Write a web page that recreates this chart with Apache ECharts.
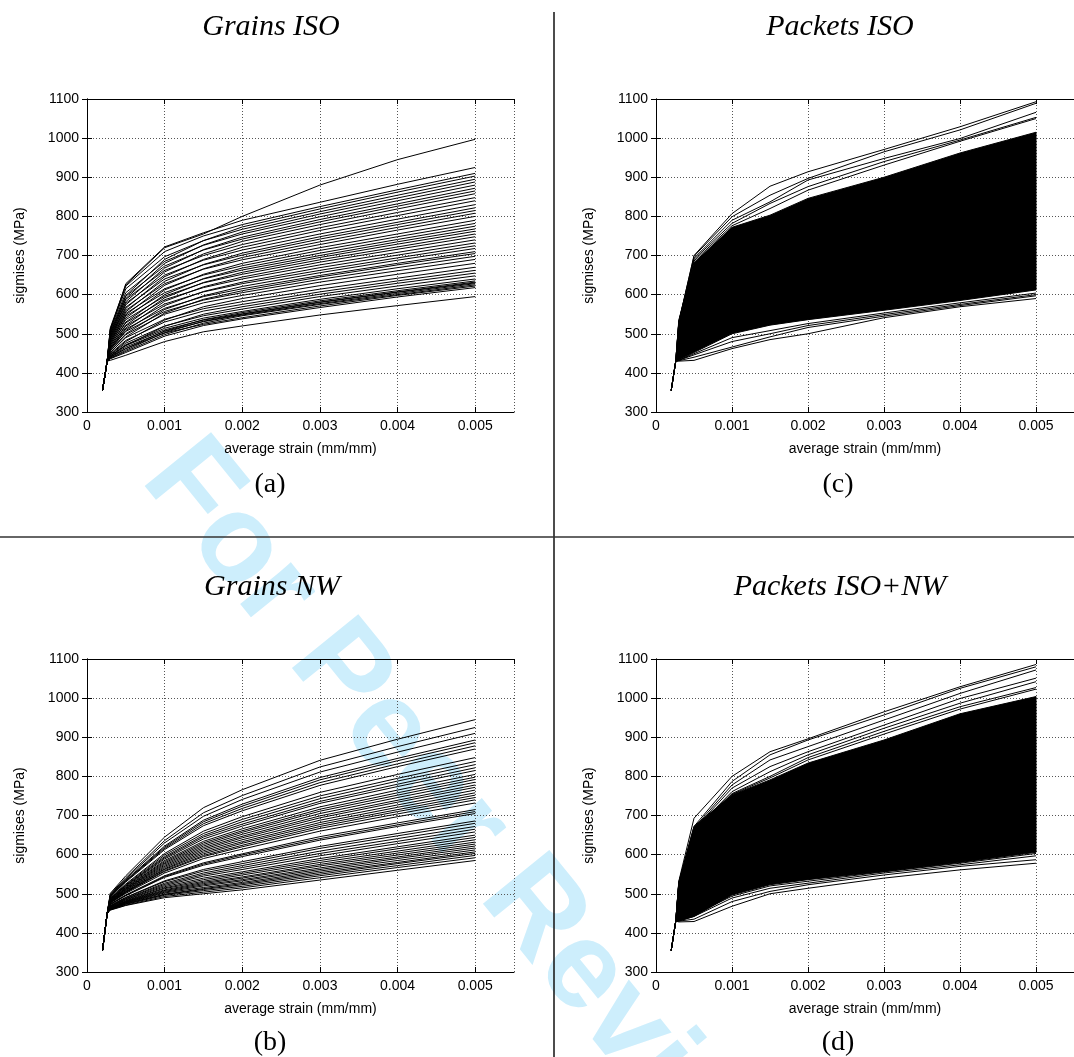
<!DOCTYPE html>
<html>
<head>
<meta charset="UTF-8">
<title>stress strain</title>
<style>
  body{margin:0;padding:0;background:#fff;}
  #main{width:1074px;height:1057px;}
</style>
</head>
<body>
<div id="main"></div>
<script src="https://cdn.jsdelivr.net/npm/echarts@6.0.0/dist/echarts.min.js"></script>
<script>
// strain points shared by every curve
var strain = [0.0002, 0.00026, 0.0003, 0.0005, 0.001, 0.0015, 0.002, 0.003, 0.004, 0.005];
// elastic start, same for all curves of a panel
var grainsIsoStart = [355, 430];
var grainsNwStart = [355, 450];
var packetsStart = [355, 430];

// (a) Grains ISO : values at 0.0003 .. 0.005
var grainsIso = [
  [432,445,480,505,520,548,572,595],
  [436,452,494,521,538,567,594,618],
  [440,462,502,524,541,571,598,622],
  [437,455,498,527,546,575,600,625],
  [441,466,506,531,548,577,603,628],
  [438,458,503,532,550,580,606,630],
  [443,470,510,535,551,581,607,632],
  [440,462,507,536,554,584,610,635],
  [444,472,514,540,557,588,615,640],
  [446,476,520,546,563,595,622,648],
  [443,470,519,550,569,601,629,655],
  [449,483,530,558,575,607,635,662],
  [452,490,537,564,582,614,642,670],
  [447,480,535,569,590,623,652,680],
  [456,498,550,579,598,632,661,690],
  [460,506,557,586,605,639,669,698],
  [452,492,553,588,610,645,676,705],
  [462,512,565,595,615,649,680,710],
  [457,500,562,597,621,656,688,718],
  [466,520,576,607,628,662,694,725],
  [460,508,572,608,632,669,701,732],
  [470,528,587,618,640,676,708,740],
  [463,515,583,620,645,683,716,748],
  [474,536,596,630,652,689,722,755],
  [466,522,592,631,657,695,729,762],
  [478,545,605,640,663,700,735,768],
  [470,530,600,641,668,706,741,775],
  [482,552,615,650,674,713,748,782],
  [474,540,612,652,680,720,755,790],
  [486,560,628,665,689,728,765,800],
  [478,548,624,666,695,735,772,808],
  [490,568,640,676,701,742,779,815],
  [482,556,634,677,706,748,785,822],
  [494,578,650,688,714,755,793,830],
  [486,565,646,690,721,764,802,840],
  [498,588,662,700,728,771,810,848],
  [490,574,658,704,736,779,819,858],
  [502,596,673,714,742,786,826,865],
  [494,582,668,715,747,792,832,872],
  [506,605,685,726,755,799,840,880],
  [498,590,680,727,760,806,847,888],
  [510,615,697,738,767,812,854,895],
  [502,598,690,738,773,819,862,903],
  [512,622,710,750,779,825,868,910],
  [508,628,722,758,790,836,882,925],
  [515,625,720,755,800,880,945,997]
];

// (b) Grains NW
var grainsNw = [
  [458,470,490,500,510,535,560,585],
  [459,471,493,504,515,541,567,592],
  [460,473,496,508,519,546,572,598],
  [460,474,498,511,523,550,577,603],
  [461,475,499,513,526,554,580,607],
  [461,476,502,516,529,558,585,612],
  [462,477,504,520,533,562,590,617],
  [462,478,506,523,536,566,594,622],
  [463,479,508,526,540,571,599,627],
  [464,480,510,529,543,575,604,632],
  [464,481,513,532,548,580,609,638],
  [465,482,515,536,552,585,615,644],
  [466,484,518,540,556,590,620,650],
  [467,485,521,545,562,597,628,658],
  [468,487,524,549,567,603,634,665],
  [468,488,527,553,572,609,641,672],
  [469,490,531,558,577,616,648,680],
  [470,491,533,562,582,621,654,686],
  [472,495,542,573,595,637,672,705],
  [473,496,544,576,599,641,676,710],
  [474,497,546,579,602,646,681,715],
  [476,501,553,590,614,660,697,732],
  [477,503,557,595,620,667,704,740],
  [477,504,559,598,624,672,710,746],
  [478,505,562,602,629,677,715,752],
  [479,506,564,606,633,682,721,758],
  [480,508,567,610,638,688,727,765],
  [480,509,570,614,643,694,734,772],
  [481,511,573,618,647,699,739,778],
  [482,512,576,622,652,705,746,785],
  [483,513,579,626,657,711,752,792],
  [484,515,582,630,661,716,758,798],
  [484,516,585,634,666,722,765,805],
  [486,518,589,640,673,731,774,815],
  [486,520,592,645,678,736,780,822],
  [487,521,595,649,684,743,788,830],
  [488,523,599,654,690,750,795,838],
  [490,525,603,660,697,759,805,848],
  [492,530,613,674,712,777,825,870],
  [493,532,616,679,718,784,832,878],
  [494,533,619,684,724,791,840,886],
  [495,535,622,688,729,797,846,893],
  [497,538,630,698,741,811,862,910],
  [499,541,636,707,751,824,876,925],
  [501,546,645,720,766,841,895,945]
];

// (c) Packets ISO : dense band edges + stray curves
var packetsIsoLow = [432,452,500,522,536,560,585,612];
var packetsIsoHigh = [535,682,772,803,846,900,962,1015];
var packetsIsoOut = [
  [530,700,807,877,914,971,1029,1093],
  [530,698,799,854,897,965,1021,1089],
  [528,693,790,837,893,948,999,1066],
  [528,690,782,833,876,940,995,1053],
  [526,686,776,820,867,931,992,1050],
  [430,432,462,485,500,541,569,590],
  [431,440,466,492,516,545,572,597],
  [432,446,480,500,521,549,575,600],
  [432,449,490,508,526,553,579,604]
];

// (d) Packets ISO+NW
var packetsMixLow = [430,442,497,523,536,557,580,606];
var packetsMixHigh = [530,672,753,791,834,893,960,1004];
var packetsMixOut = [
  [532,693,800,863,896,965,1029,1086],
  [528,672,787,855,893,957,1025,1080],
  [528,668,778,842,876,944,1012,1072],
  [526,665,770,825,863,931,999,1051],
  [526,662,761,812,855,923,987,1042],
  [524,660,756,800,848,915,978,1027],
  [524,658,754,796,842,908,972,1023],
  [428,429,468,500,514,540,561,578],
  [430,435,480,506,523,548,570,587],
  [431,442,489,514,527,553,574,597],
  [432,446,494,520,532,556,578,603]
];

var panelTitles = ['Grains ISO', 'Grains NW', 'Packets ISO', 'Packets ISO+NW'];
var panelLetters = ['(a)', '(b)', '(c)', '(d)'];

var grids = [
  {left: 87, top: 99, width: 427, height: 313},
  {left: 87, top: 659, width: 427, height: 313},
  {left: 656, top: 99, width: 427, height: 313},
  {left: 656, top: 659, width: 427, height: 313}
];

var sans = '"Liberation Sans", Arial, sans-serif';
var serif = '"Liberation Serif", "Times New Roman", serif';

var xAxes = [], yAxes = [], series = [];
grids.forEach(function (g, i) {
  xAxes.push({
    gridIndex: i, type: 'value', min: 0, max: 0.0055, interval: 0.001,
    name: 'average strain (mm/mm)', nameLocation: 'middle', nameGap: 30,
    nameTextStyle: {fontFamily: sans, fontSize: 14, color: '#000'},
    axisLine: {lineStyle: {color: '#000', width: 1}},
    axisTick: {inside: true, length: 5, lineStyle: {color: '#000'}},
    axisLabel: {fontFamily: sans, fontSize: 14, color: '#000', margin: 7, showMaxLabel: false,
      formatter: function (v) { return v === 0 ? '0' : v.toFixed(3); }},
    splitLine: {show: true, lineStyle: {color: '#555', width: 1, type: [1, 2]}}
  });
  xAxes.push({
    gridIndex: i, type: 'value', position: 'top', min: 0, max: 0.0055, interval: 0.001,
    axisLine: {lineStyle: {color: '#000', width: 1}},
    axisTick: {inside: true, length: 5, lineStyle: {color: '#000'}},
    axisLabel: {show: false}, splitLine: {show: false}
  });
  yAxes.push({
    gridIndex: i, type: 'value', min: 300, max: 1100, interval: 100,
    name: 'sigmises (MPa)', nameLocation: 'middle', nameGap: 60, nameRotate: 90,
    nameTextStyle: {fontFamily: sans, fontSize: 14, color: '#000'},
    axisLine: {show: true, lineStyle: {color: '#000', width: 1}},
    axisTick: {show: true, inside: true, length: 5, lineStyle: {color: '#000'}},
    axisLabel: {fontFamily: sans, fontSize: 14, color: '#000', margin: 8,
      formatter: function (v) { return String(v); }},
    splitLine: {show: true, lineStyle: {color: '#555', width: 1, type: [1, 2]}}
  });
  yAxes.push({
    gridIndex: i, type: 'value', position: 'right', min: 300, max: 1100, interval: 100,
    axisLine: {show: true, lineStyle: {color: '#000', width: 1}},
    axisTick: {show: true, inside: true, length: 5, lineStyle: {color: '#000'}},
    axisLabel: {show: false}, splitLine: {show: false}
  });
});

function curve(start, vals) {
  return start.concat(vals).map(function (v, k) { return [strain[k], v]; });
}
function lineSeries(p, start, vals) {
  return {
    type: 'line', xAxisIndex: p * 2, yAxisIndex: p * 2, data: curve(start, vals),
    symbol: 'none', silent: true, z: 3,
    lineStyle: {color: '#000', width: 1}
  };
}
// the packet panels are so dense that the curves merge into one black band
function bandSeries(p, start, lo, hi) {
  var pts = curve(start, hi).concat(curve(start, lo).reverse());
  return {
    type: 'custom', xAxisIndex: p * 2, yAxisIndex: p * 2, silent: true, z: 2,
    data: pts,
    renderItem: function (params, api) {
      if (params.dataIndex !== 0) return null;
      return {
        type: 'polygon',
        shape: {points: pts.map(function (d) { return api.coord(d); })},
        style: {fill: '#000', stroke: '#000', lineWidth: 1}
      };
    }
  };
}

grainsIso.forEach(function (c) { series.push(lineSeries(0, grainsIsoStart, c)); });
grainsNw.forEach(function (c) { series.push(lineSeries(1, grainsNwStart, c)); });
series.push(bandSeries(2, packetsStart, packetsIsoLow, packetsIsoHigh));
packetsIsoOut.forEach(function (c) { series.push(lineSeries(2, packetsStart, c)); });
series.push(bandSeries(3, packetsStart, packetsMixLow, packetsMixHigh));
packetsMixOut.forEach(function (c) { series.push(lineSeries(3, packetsStart, c)); });

var titlePos = [[271, 27], [272, 587], [840, 27], [840, 587]];
var letterPos = [[270, 485], [270, 1043], [838, 485], [838, 1043]];
var graphics = [
  {type: 'text', x: 166, y: 458, rotation: -0.89, z: -10, silent: true,
    style: {text: 'For Peer Review', font: 'bold 124px ' + sans, fill: '#cdeefc',
      textAlign: 'left', textVerticalAlign: 'middle'}},
  {type: 'line', shape: {x1: 554, y1: 12, x2: 554, y2: 1057}, style: {stroke: '#111', lineWidth: 1.5}},
  {type: 'line', shape: {x1: 0, y1: 537, x2: 1074, y2: 537}, style: {stroke: '#333', lineWidth: 1.5}}
];
panelTitles.forEach(function (t, i) {
  graphics.push({type: 'text', x: titlePos[i][0], y: titlePos[i][1],
    style: {text: t, font: 'italic 30px ' + serif, fill: '#000', textAlign: 'center', textVerticalAlign: 'middle'}});
  graphics.push({type: 'text', x: letterPos[i][0], y: letterPos[i][1],
    style: {text: panelLetters[i], font: '28px ' + serif, fill: '#000', textAlign: 'center', textVerticalAlign: 'middle'}});
});

var chart = echarts.init(document.getElementById('main'));
chart.setOption({
  backgroundColor: '#fff',
  animation: false,
  grid: grids,
  xAxis: xAxes,
  yAxis: yAxes,
  series: series,
  graphic: graphics
});
</script>
</body>
</html>
